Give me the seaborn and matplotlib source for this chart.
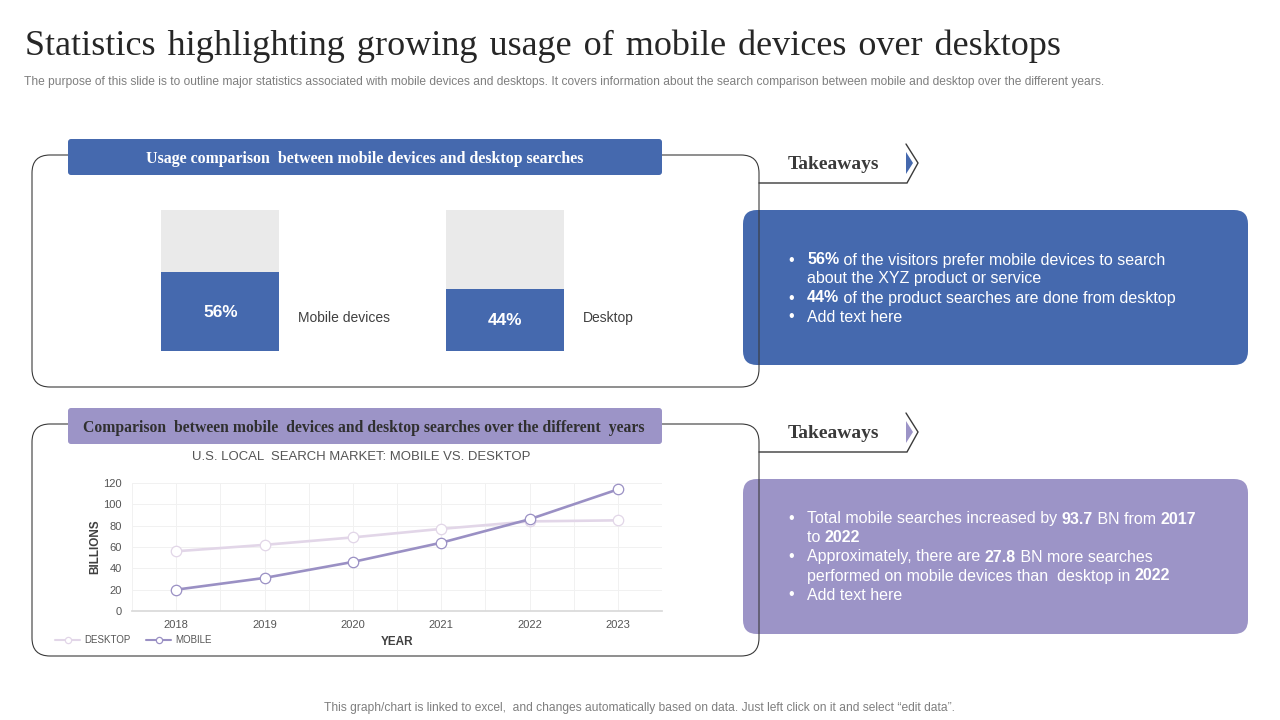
"""Slide: growing usage of mobile devices over desktops."""

import matplotlib
matplotlib.use("Agg")
import matplotlib.pyplot as plt
import pandas as pd
import seaborn as sns
from matplotlib.patches import FancyBboxPatch, Polygon
from matplotlib.ticker import MultipleLocator

# data
devices = ["Mobile devices", "Desktop"]
device_share = [56, 44]
device_total = [100, 100]

years = [2018, 2019, 2020, 2021, 2022, 2023]
desktop = [56, 62, 69, 77, 84, 85]
mobile = [20, 31, 46, 64, 86, 114]

title = "Statistics highlighting growing usage of mobile devices over desktops".replace(" ", "\u2004")
subtitle = ("The purpose of this slide is to outline major statistics associated with mobile devices and desktops. "
            "It covers information about the search comparison between mobile and desktop over the different years.")
footer = ("This graph/chart is linked to excel,  and changes automatically based on data. "
          "Just left click on it and select \u201cedit data\u201d.")

# takeaways: each line is a list of (text, bold) runs, plus whether it has a bullet
top_lines = [
    (True, [("56%", True), (" of the visitors prefer mobile devices to search", False)]),
    (False, [("about the XYZ product or service", False)]),
    (True, [("44%", True), (" of the product searches are done from desktop", False)]),
    (True, [("Add text here", False)]),
]
bottom_lines = [
    (True, [("Total mobile searches increased by ", False), ("93.7", True), (" BN from ", False), ("2017", True)]),
    (False, [("to ", False), ("2022", True)]),
    (True, [("Approximately, there are ", False), ("27.8", True), (" BN more searches", False)]),
    (False, [("performed on mobile devices than  desktop in ", False), ("2022", True)]),
    (True, [("Add text here", False)]),
]

BLUE = "#4569AE"
PURPLE = "#9C94C7"
LILAC = "#E2D6E8"
LINE_PURPLE = "#9A90C4"
DARK = "#3A3A3A"
GRID = "#F1F1F1"
SANS = "Liberation Sans"
SERIF = "Liberation Serif"

W, H = 1280, 720

sns.set_theme(style="white")
plt.rcParams["font.family"] = [SANS, "DejaVu Sans"]

fig = plt.figure(figsize=(W / 100, H / 100), dpi=100, facecolor="white")


def px_axes(left, top, right, bottom, zorder=2):
    """Axes placed by slide pixel coordinates."""
    ax = fig.add_axes([left / W, 1 - bottom / H, (right - left) / W, (bottom - top) / H], zorder=zorder)
    ax.patch.set_alpha(0)
    return ax


def round_box(ax, x0, y0, x1, y1, radius, **kw):
    ax.add_patch(FancyBboxPatch((x0 + radius, y0 + radius), x1 - x0 - 2 * radius, y1 - y0 - 2 * radius,
                                boxstyle=f"round,pad={radius},rounding_size={radius}", **kw))


def draw_runs(ax, x, y, runs, size=11.5):
    """Draw mixed regular/bold text left to right on one baseline."""
    renderer = fig.canvas.get_renderer()
    for text, bold in runs:
        text = text.replace(" ", "\u00a0")
        t = ax.text(x, y + 4.5, text, color="white", fontsize=size, va="baseline", ha="left",
                    fontweight="bold" if bold else "normal", family=SANS)
        x += t.get_window_extent(renderer).width


def takeaway(ax, y, color):
    ax.plot([759, 907, 918, 906], [y + 20, y + 20, y, y - 19], color=DARK, lw=1.0, solid_joinstyle="miter")
    ax.add_patch(Polygon([(906, y - 11), (913, y), (906, y + 11)], closed=True, color=color, lw=0))
    ax.text(833, y + 1.5, "Takeaways", family=SERIF, fontweight="bold", fontsize=14, color=DARK,
            ha="center", va="center")


def bullet_block(ax, lines, top, step=19):
    for i, (bullet, runs) in enumerate(lines):
        y = top + i * step
        if bullet:
            ax.text(791, y, "\u2022", color="white", fontsize=11.5, ha="center", va="center")
        draw_runs(ax, 807, y, runs)


# slide layer, coordinates in pixels
bg = fig.add_axes([0, 0, 1, 1], zorder=0)
bg.set_xlim(0, W)
bg.set_ylim(H, 0)
bg.axis("off")

bg.text(25, 46.5, title, family=[SERIF, "DejaVu Serif"], fontsize=26, color="#262626", va="center", ha="left")
bg.text(24, 81.5, subtitle, fontsize=8.67, color="#7F7F7F", va="center", ha="left")
bg.text(640, 707.5, footer, fontsize=8.65, color="#7F7F7F", va="center", ha="center")

# takeaway panels sit under the chart frame lines
round_box(bg, 743, 210, 1248, 365, 14, fc=BLUE, ec="none", zorder=1)
round_box(bg, 743, 479, 1248, 634, 14, fc=PURPLE, ec="none", zorder=1)
round_box(bg, 32, 155, 759, 387, 18, fc="none", ec=DARK, lw=0.8, zorder=2)
round_box(bg, 32, 424, 759, 656, 18, fc="none", ec=DARK, lw=0.8, zorder=2)

round_box(bg, 68, 139, 662, 175, 3, fc=BLUE, ec="none", zorder=3)
round_box(bg, 68, 408, 662, 444, 3, fc=PURPLE, ec="none", zorder=3)
bg.text(365, 159, "Usage comparison  between mobile devices and desktop searches", family=SERIF,
        fontweight="bold", fontsize=11.4, color="white", ha="center", va="center", zorder=4)
bg.text(364, 427.5, "Comparison  between mobile  devices and desktop searches over the different  years", family=SERIF,
        fontweight="bold", fontsize=11.3, color="#303030", ha="center", va="center", zorder=4)

takeaway(bg, 163, BLUE)
takeaway(bg, 432, PURPLE)
bullet_block(bg, top_lines, 260)
bullet_block(bg, bottom_lines, 519)

bg.text(361, 456.5, "U.S. LOCAL  SEARCH MARKET: MOBILE VS. DESKTOP", fontsize=9.45, color="#555555",
        ha="center", va="center")

# stacked share bars
bar_ax = px_axes(78, 210, 647, 351)
share_df = pd.DataFrame({"device": devices, "share": device_share, "total": device_total})
sns.barplot(data=share_df, x="device", y="total", color="#EAEAEA", saturation=1, width=0.416, linewidth=0, ax=bar_ax)
sns.barplot(data=share_df, x="device", y="share", color=BLUE, saturation=1, width=0.416, linewidth=0, ax=bar_ax)
bar_ax.set_xlim(-0.5, 1.5)
bar_ax.set_ylim(0, 100)
bar_ax.axis("off")
for i, (name, val) in enumerate(zip(devices, device_share)):
    bar_ax.text(i, val / 2 - 0.5, f"{val}%", color="white", fontweight="bold", fontsize=12.4, ha="center", va="center")
    bar_ax.text(i + 0.274, 23.5, name, color="#404040", fontsize=10, ha="left", va="center")

# line chart
line_ax = px_axes(132, 483, 662, 611)
sns.lineplot(x=years, y=desktop, color=LILAC, lw=1.9, marker="o", ms=7.5, mfc="white", mec=LILAC, mew=0.9,
             label="DESKTOP", ax=line_ax)
sns.lineplot(x=years, y=mobile, color=LINE_PURPLE, lw=1.9, marker="o", ms=7.5, mfc="white", mec=LINE_PURPLE, mew=0.9,
             label="MOBILE", ax=line_ax)
line_ax.set_xlim(2017.5, 2023.5)
line_ax.set_ylim(0, 120)
line_ax.set_xticks(years)
line_ax.xaxis.set_minor_locator(MultipleLocator(0.5))
line_ax.yaxis.set_major_locator(MultipleLocator(20))
line_ax.grid(which="both", axis="x", color=GRID, lw=0.7)
line_ax.grid(which="major", axis="y", color=GRID, lw=0.7)
line_ax.set_axisbelow(True)
line_ax.tick_params(which="both", length=0, labelsize=8, labelcolor="#555555")
line_ax.tick_params(axis="x", pad=6.5)
line_ax.tick_params(axis="y", pad=7.5)
sns.despine(ax=line_ax, left=True, top=True, right=True)
line_ax.spines["bottom"].set_color("#D9D9D9")
line_ax.set_xlabel("YEAR", fontsize=8.5, fontweight="bold", color="#404040")
line_ax.set_ylabel("BILLIONS", fontsize=8.5, fontweight="bold", color="#404040")
line_ax.xaxis.set_label_coords((397 - 132) / 530, -(636 - 611) / 128, transform=line_ax.transAxes)
line_ax.yaxis.set_label_coords(-(132 - 101) / 530, 0.5, transform=line_ax.transAxes)
leg = line_ax.legend(loc="center left", bbox_to_anchor=((55 - 132) / 530, -(640 - 611) / 128), ncol=2, frameon=False,
                     fontsize=7, handlelength=2.6, columnspacing=1.6, handletextpad=0.4, borderpad=0, borderaxespad=0,
                     markerscale=0.6, labelcolor="#555555")
for handle in leg.get_lines():
    handle.set_linewidth(1.5)

fig.savefig("out.png", dpi=100)
